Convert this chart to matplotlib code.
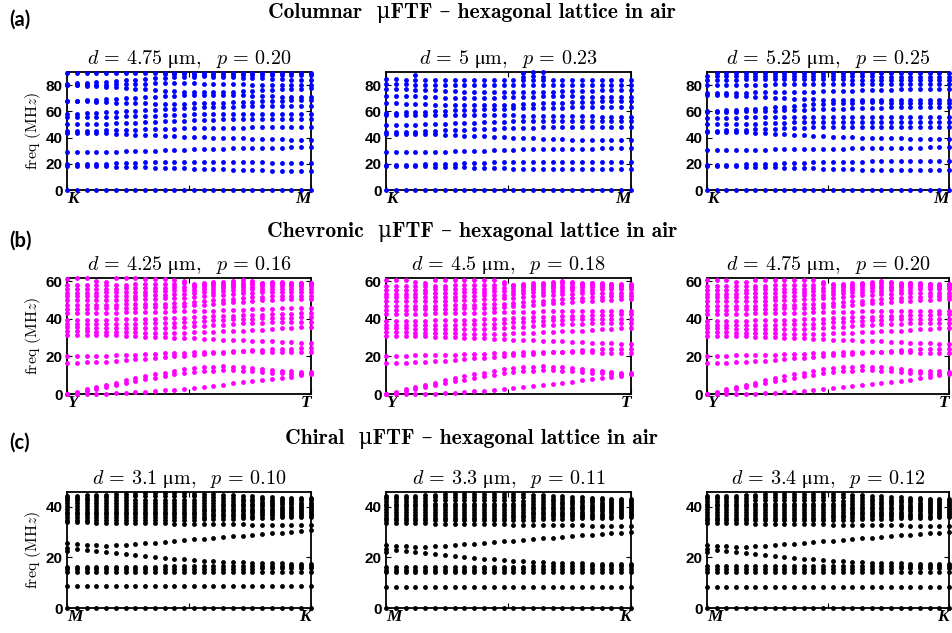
import numpy as np
import matplotlib
matplotlib.use("Agg")
import matplotlib.pyplot as plt

nan = np.nan
plt.rcParams['mathtext.fontset'] = 'cm'

# ---------------- data: band frequencies (MHz) at 26 k-points ----------------
k_points = np.arange(26)

# (a) Columnar, d = 4.75 um, p = 0.20   (K -> M)
A1 = [
 [0,0,0,0,0,0,0,0,0,0,0,0,0,0,0,0,0,0,0,0,0,0,0,0,0,0],
 [19.5,19.5,19.7,19.9,20.1,20.3,20.5,20.8,21,21.2,21.3,21.4,21.5,21.5,21.5,21.5,21.4,21.3,21.2,21.1,21,20.9,20.8,20.7,20.7,20.7],
 [18.5,18.5,18.4,18.3,18.1,17.9,17.7,17.5,17.3,17.1,16.9,16.7,16.5,16.3,16.1,15.9,15.7,15.5,15.3,15.1,14.9,14.7,14.6,14.5,14.4,14.3],
 [29,29,29,29.1,29.2,29.3,29.5,29.7,29.9,30.1,30.3,30.5,30.7,30.9,31.1,31.3,31.5,31.7,31.9,32.1,32.2,32.3,32.4,32.5,32.5,32.5],
 [43.5,43.5,43.4,43.3,43.1,42.9,42.6,42.3,42,41.7,41.4,41.1,40.8,40.5,40.2,40,39.8,39.6,39.4,39.2,39,38.8,38.6,38.5,38.4,38.4],
 [45,45,45.1,45.2,45.4,45.6,45.8,46,46.2,46.4,46.6,46.8,47,47.1,47.2,47.3,47.4,47.5,47.6,47.7,47.8,47.9,48,48,48,48],
 [50,50,50.1,50.3,50.5,50.8,51.1,51.4,51.7,52,52.3,52.6,52.9,53.2,53.4,53.6,53.8,54,54.1,54.2,54.3,54.4,54.5,54.5,54.5,54.5],
 [55.5,55.5,55.6,55.7,55.8,56,56.2,56.4,56.6,56.8,57,57.2,57.4,57.6,57.7,57.8,57.9,58,58,58,58,58,58,58,58,58],
 [58,58.2,58.5,58.9,59.3,59.7,60.1,60.5,60.9,61.3,61.7,62.1,62.4,62.7,63,63.2,63.4,63.6,63.7,63.8,63.9,64,64,64,64,64],
 [68,67.8,67.6,67.3,67,66.7,66.4,66.2,66,65.9,65.8,65.8,65.9,66,66.2,66.4,66.6,66.8,67,67.3,67.6,67.9,68.2,68.4,68.5,68.5],
 [68,68.2,68.5,68.8,69.2,69.6,70,70.4,70.8,71.2,71.6,72,72.3,72.5,72.6,72.6,72.5,72.3,72.1,71.9,71.7,71.5,71.3,71.1,71,71],
 [80,79.8,79.5,79.1,78.7,78.2,77.7,77.2,76.7,76.2,75.8,75.4,75,74.8,74.7,74.7,74.8,75,75.3,75.7,76.1,76.5,76.9,77.2,77.4,77.5],
 [80,80,80,80.2,80.4,80.6,80.8,81,81.2,81.4,81.5,81.5,81.4,81.3,81.2,81.1,81,80.8,80.6,80.4,80.2,80.1,80,80,80,80],
 [81,81.3,81.7,82.2,82.7,83.2,83.7,84.2,84.7,85.2,85.6,86,86.3,86.5,86.6,86.5,86.3,86,85.7,85.4,85.1,84.8,84.5,84.2,84,84],
 [89.5,89.5,89.5,89.5,89.5,89.5,89.5,89.5,89.5,89.5,89.5,89.5,89.5,89.5,89.5,89.5,89.5,89.5,89.5,89.5,89.5,89.5,89.5,89.5,89.5,89.5],
 [nan,nan,nan,nan,nan,nan,nan,nan,nan,nan,88.5,88.3,88.1,88,87.9,87.8,87.8,87.7,87.7,87.7,87.7,87.7,87.7,87.7,87.7,87.7],
]

# (a) Columnar, d = 5 um, p = 0.23
A2 = [
 [0,0,0,0,0,0,0,0,0,0,0,0,0,0,0,0,0,0,0,0,0,0,0,0,0,0],
 [19,19,19.2,19.4,19.6,19.8,20,20.2,20.4,20.6,20.8,21,21.2,21.4,21.5,21.6,21.7,21.7,21.7,21.7,21.7,21.6,21.6,21.6,21.6,21.6],
 [18.5,18.5,18.4,18.2,18,17.8,17.6,17.4,17.2,17,16.8,16.6,16.4,16.3,16.2,16.1,16,15.9,15.8,15.8,15.7,15.7,15.7,15.7,15.7,15.7],
 [28.7,28.7,28.8,28.9,29,29.1,29.3,29.5,29.7,29.9,30.1,30.3,30.5,30.7,30.9,31.1,31.2,31.3,31.4,31.5,31.6,31.6,31.7,31.7,31.7,31.7],
 [43,43,42.9,42.8,42.6,42.4,42.1,41.8,41.5,41.2,40.9,40.6,40.3,40,39.7,39.4,39.1,38.9,38.7,38.5,38.3,38.2,38.1,38,38,38],
 [44,44.1,44.3,44.5,44.8,45.1,45.4,45.7,46,46.3,46.6,46.9,47.1,47.3,47.5,47.6,47.7,47.8,47.9,48,48,48,48,48,48,48],
 [49.5,49.5,49.6,49.8,50,50.2,50.5,50.8,51.1,51.4,51.7,52,52.2,52.4,52.6,52.7,52.8,52.9,53,53,53,53,53,53,53,53],
 [57,57,57,57,57,57,57,57,57,57,57,57,57,56.9,56.8,56.7,56.6,56.5,56.4,56.3,56.2,56.1,56,56,56,56],
 [59,59.1,59.3,59.5,59.8,60.1,60.4,60.7,61,61.3,61.6,61.9,62.1,62.3,62.5,62.6,62.7,62.8,62.9,63,63,63,63,63,63,63],
 [66,66,65.8,65.6,65.4,65.2,65,64.9,64.8,64.8,64.8,64.9,65,65.2,65.4,65.7,66,66.3,66.6,66.9,67.2,67.5,67.7,67.9,68,68],
 [72,71.9,71.7,71.4,71.1,70.8,70.5,70.3,70.2,70.2,70.3,70.5,70.7,70.9,71.1,71.3,71.4,71.5,71.5,71.4,71.3,71.2,71.1,71,71,71],
 [77,77,76.8,76.5,76.2,75.9,75.6,75.3,75,74.8,74.6,74.5,74.4,74.4,74.5,74.6,74.8,75,75.2,75.4,75.6,75.8,75.9,76,76,76],
 [80.5,80.5,80.5,80.4,80.3,80.2,80.1,80,80,80,80,80,80,80,80,80,80,80,80,80,80,80,80,80,80,80],
 [84.3,84.3,84.2,84.2,84.1,84.1,84,84,84,84,84,84,84,84,84,84,84,84,84,84,84,84,84,84,84,84],
 [nan,nan,nan,88,nan,nan,nan,nan,nan,nan,nan,nan,nan,nan,89,90,90,nan,nan,nan,nan,nan,nan,nan,nan,nan],
 [nan,nan,nan,nan,nan,nan,nan,nan,nan,nan,nan,nan,nan,nan,86.5,87,86.5,nan,nan,nan,nan,nan,nan,nan,nan,nan],
]

# (a) Columnar, d = 5.25 um, p = 0.25
A3 = [
 [0,0,0,0,0,0,0,0,0,0,0,0,0,0,0,0,0,0,0,0,0,0,0,0,0,0],
 [19,19,19.2,19.4,19.6,19.8,20,20.2,20.4,20.6,20.8,21,21.2,21.4,21.5,21.6,21.7,21.8,21.9,22,22,22,22,22,22,22],
 [18.3,18.3,18.2,18,17.8,17.6,17.4,17.2,17,16.8,16.6,16.4,16.2,16,15.8,15.7,15.6,15.5,15.4,15.3,15.2,15.1,15,15,15,15],
 [30.5,30.5,30.5,30.5,30.6,30.7,30.8,30.9,31,31.1,31.2,31.3,31.4,31.5,31.6,31.7,31.8,31.9,32,32.1,32.2,32.3,32.4,32.5,32.5,32.5],
 [44.4,44.4,44.3,44.1,43.9,43.6,43.3,43,42.6,42.2,41.8,41.4,41,40.7,40.4,40.1,39.9,39.7,39.5,39.4,39.3,39.2,39.1,39,39,39],
 [45.2,45.3,45.5,45.7,46,46.3,46.6,46.9,47.2,47.4,47.6,47.8,47.9,48,48,48,48,48,48,48,48,48,48,48,48,48],
 [50,50,50.1,50.3,50.5,50.7,50.9,51.1,51.3,51.5,51.7,51.9,52,52.1,52.2,52.2,52.2,52.1,52.1,52,52,52,52,52,52,52],
 [55,55,55.1,55.2,55.3,55.4,55.5,55.6,55.7,55.8,55.9,56,56,56,56,56,56,56,56,56,56,56,56,56,56,56],
 [59.5,59.5,59.6,59.8,60,60.2,60.4,60.6,60.8,61,61.2,61.4,61.6,61.8,62,62.2,62.4,62.6,62.8,63,63.1,63.2,63.3,63.4,63.5,63.5],
 [60.5,60.6,60.8,61.1,61.5,62,62.5,63,63.6,64.2,64.8,65.3,65.8,66.2,66.5,66.7,66.8,66.8,66.8,66.7,66.7,66.6,66.6,66.5,66.5,66.5],
 [72.5,72.4,72.2,71.9,71.5,71.1,70.7,70.3,69.9,69.6,69.3,69.1,68.9,68.8,68.7,68.6,68.6,68.5,68.5,68.5,68.5,68.5,68.5,68.5,68.5,68.5],
 [74,74,74.1,74.2,74.3,74.4,74.5,74.6,74.7,74.8,74.9,75,75.2,75.4,75.6,75.8,76,76.2,76.4,76.6,76.7,76.8,76.9,77,77,77],
 [80,80,80,80.1,80.2,80.3,80.4,80.5,80.6,80.7,80.8,80.9,81,81,81,81,81,81,81,81,81,81,81,81,81,81],
 [84,84,84.1,84.2,84.3,84.4,84.5,84.6,84.7,84.7,84.7,84.6,84.5,84.4,84.3,84.2,84.1,84,84,84,84,84,84,84,84,84],
 [87,87,87,87,87,87,87,87,87,87,87,87,87,87,86.9,86.8,86.7,86.6,86.5,86.4,86.3,86.2,86.1,86,86,86],
 [nan,89,89,89,89,89,89,89,89,89,89,89,89,89,89,89,89,89,89,89,89,89,89,89,89,89],
]

# (b) Chevronic, d = 4.25 um, p = 0.16   (Y -> T)
B1 = [
 [0,0,0,0,0,0.3,0.5,0.8,1.1,1.5,1.9,2.3,2.8,3.3,3.8,4.4,5,5.6,6.2,6.8,7.4,8,8.6,9.3,10,10.8],
 [0,0.6,1.5,2.6,3.7,4.8,5.8,6.8,7.8,8.7,9.6,10.4,11.1,11.7,12.2,12.5,12.7,12.7,12.5,12.2,11.8,11.4,11.1,10.9,10.9,11],
 [0,1.2,2.4,3.6,4.8,6,7.2,8.3,9.4,10.4,11.4,12.3,13.1,13.8,14.3,14.6,14.7,14.6,14.3,13.9,13.4,12.9,12.4,12,11.7,11.5],
 [16.5,16.6,16.8,17,17.3,17.6,18,18.4,18.8,19.2,19.6,20,20.4,20.8,21.2,21.6,22,22.4,22.8,23.2,23.5,23.8,24,24.2,24.3,24.4],
 [20,20,20,20.2,20.4,20.6,20.8,21,21.2,21.4,21.6,21.8,22,22.2,22.4,22.5,22.6,22.7,22.7,22.7,22.6,22.6,22.5,22.5,22.4,22.4],
 [31.6,31.6,31.5,31.4,31.3,31.2,31,30.8,30.6,30.4,30.2,30,29.8,29.6,29.4,29.2,29,28.8,28.6,28.4,28.2,28,27.8,27.6,27.4,27.2],
 [33.5,33.4,33.3,33.2,33.1,33,32.9,32.8,32.7,32.6,32.6,32.6,32.7,32.8,33,33.2,33.4,33.6,33.8,34,34.3,34.6,34.9,35.2,35.5,35.7],
 [35.5,35.5,35.4,35.3,35.2,35.1,35,35,35,35.1,35.3,35.5,35.8,36.1,36.4,36.7,37,37.3,37.6,37.8,38,38.1,38.2,38.3,38.3,38.3],
 [37.5,37.5,37.5,37.5,37.5,37.5,37.5,37.5,37.6,37.7,37.8,38,38.3,38.6,38.9,39.2,39.5,39.8,40,40.2,40.4,40.5,40.6,40.7,40.8,40.8],
 [39.5,39.5,39.5,39.5,39.6,39.7,39.8,39.9,40,40.1,40.3,40.5,40.7,40.9,41.1,41.3,41.5,41.7,41.9,42.1,42.3,42.5,42.7,42.8,42.9,43],
 [43,43,43.1,43.2,43.3,43.4,43.5,43.6,43.7,43.8,43.9,44,44.1,44.2,44.3,44.4,44.6,44.8,45,45.2,45.4,45.5,45.6,45.7,45.8,45.8],
 [45.5,45.5,45.5,45.6,45.7,45.8,45.9,46,46.1,46.2,46.3,46.5,46.8,47.2,47.6,48,48.4,48.8,49.2,49.6,50,50.2,50.4,50.5,50.5,50.5],
 [47.5,47.5,47.5,47.5,47.5,47.6,47.7,47.8,47.9,48,48.2,48.4,48.7,49.1,49.5,49.9,50.3,50.7,51.1,51.5,51.8,52,52.2,52.3,52.4,52.4],
 [50,50,50,50,50.1,50.2,50.3,50.4,50.5,50.7,50.9,51.1,51.4,51.8,52.2,52.6,53,53.4,53.7,54,54.2,54.3,54.4,54.5,54.5,54.5],
 [52,52,52,52,52.1,52.2,52.3,52.4,52.6,52.8,53,53.2,53.5,53.8,54.2,54.6,55,55.3,55.6,55.8,56,56.1,56.2,56.2,56.2,56.2],
 [54,54,54,54,54.1,54.2,54.3,54.4,54.6,54.8,55,55.2,55.4,55.6,55.9,56.2,56.5,56.8,57,57.2,57.4,57.5,57.6,57.7,57.8,57.8],
 [56,56,56,56,56.1,56.2,56.3,56.4,56.5,56.6,56.7,56.8,57,57.2,57.4,57.6,57.8,58,58.2,58.4,58.5,58.6,58.7,58.8,58.9,59],
 [58,58,58,58,58.1,58.2,58.3,58.4,58.5,58.6,58.7,58.8,58.9,58.5,58.2,58.5,58.8,59,59.2,59.3,59.3,59.2,59.1,59,58.9,58.8],
 [61.3,61.8,61.7,60,59.5,61.6,61.7,61.7,61.3,61.3,61.3,61,60,58.2,59,59.5,59.5,60,60.5,60,59,59.5,59.5,59,58.2,59],
]

# (b) Chevronic, d = 4.5 um, p = 0.18
B2 = [
 [0,0,0,0,0,0.2,0.4,0.7,1,1.4,1.8,2.2,2.7,3.2,3.7,4.2,4.8,5.4,6,6.6,7.2,7.8,8.4,9,9.7,10.4],
 [0,0.6,1.5,2.5,3.6,4.7,5.7,6.7,7.7,8.6,9.5,10.3,11,11.6,12.1,12.4,12.6,12.6,12.4,12.1,11.7,11.3,11,10.8,10.7,10.7],
 [0,1.2,2.4,3.6,4.8,6,7.2,8.3,9.4,10.4,11.4,12.3,13.1,13.8,14.3,14.6,14.7,14.6,14.3,13.9,13.4,12.9,12.3,11.8,11.3,11],
 [16.3,16.4,16.6,16.8,17.1,17.4,17.8,18.2,18.6,19,19.4,19.8,20.2,20.6,21,21.4,21.8,22.2,22.6,23,23.3,23.6,23.8,24,24.1,24.2],
 [20.5,20.5,20.5,20.6,20.7,20.8,20.9,21,21.1,21.2,21.4,21.6,21.8,22,22.2,22.3,22.4,22.4,22.4,22.3,22.3,22.2,22.1,22.1,22,22],
 [31,31,30.9,30.8,30.7,30.6,30.4,30.2,30,29.8,29.6,29.4,29.2,29,28.8,28.6,28.4,28.2,28,27.8,27.6,27.4,27.2,27,26.8,26.7],
 [33,32.9,32.8,32.7,32.6,32.5,32.4,32.3,32.2,32.1,32.1,32.1,32.2,32.3,32.5,32.7,32.9,33.1,33.3,33.5,33.8,34.1,34.4,34.7,35,35.3],
 [35,35,34.9,34.8,34.7,34.6,34.5,34.5,34.5,34.6,34.8,35,35.3,35.6,35.9,36.2,36.5,36.8,37.1,37.3,37.5,37.6,37.7,37.8,37.8,37.8],
 [37,37,37,37,37,37,37,37,37.1,37.2,37.3,37.5,37.8,38.1,38.4,38.7,39,39.3,39.5,39.7,39.9,40,40,40,40,40],
 [39,39,39,39,39.1,39.2,39.3,39.4,39.5,39.6,39.8,40,40.2,40.4,40.6,40.8,41,41.2,41.4,41.6,41.8,42,42.2,42.3,42.4,42.5],
 [42.5,42.5,42.6,42.7,42.8,42.9,43,43.1,43.2,43.3,43.4,43.5,43.6,43.7,43.8,43.9,44,44.1,44.2,44.3,44.4,44.4,44.3,44.2,44.2,44.2],
 [45,45,45,45.1,45.2,45.3,45.4,45.5,45.6,45.7,45.8,46,46.3,46.7,47.1,47.5,47.9,48.3,48.7,49.1,49.5,49.8,50.1,50.3,50.4,50.5],
 [47,47,47,47,47,47.1,47.2,47.3,47.4,47.5,47.7,47.9,48.2,48.6,49,49.4,49.8,50.2,50.6,51,51.3,51.6,51.8,52,52,52],
 [49.5,49.5,49.5,49.5,49.6,49.7,49.8,49.9,50,50.2,50.4,50.6,50.9,51.3,51.7,52.1,52.5,52.9,53.2,53.5,53.7,53.8,53.9,54,54,54],
 [51.5,51.5,51.5,51.5,51.6,51.7,51.8,51.9,52.1,52.3,52.5,52.7,53,53.3,53.7,54.1,54.5,54.8,55.1,55.3,55.5,55.6,55.7,55.7,55.7,55.7],
 [53.5,53.5,53.5,53.5,53.6,53.7,53.8,53.9,54.1,54.3,54.5,54.7,54.9,55.1,55.4,55.7,56,56.3,56.5,56.7,56.9,57,57,57,57,57],
 [55.5,55.5,55.5,55.5,55.6,55.7,55.8,55.9,56,56.1,56.2,56.3,56.5,56.7,56.9,57.1,57.3,57.5,57.7,57.8,57.9,58,58,58,58,58],
 [57.5,57.5,57.5,57.5,57.6,57.7,57.8,57.9,58,58.1,58.2,58.3,58.4,58.2,58,58.2,58.5,58.7,58.9,59,59,58.9,58.8,58.7,58.6,58.5],
 [60.8,61,60.5,59.5,59,60.8,61,61,61,61,60.8,60.5,59.5,58,58.5,59,59.2,59.5,60,59.5,58.8,59,59,58.8,58,57.7],
]

# (b) Chevronic, d = 4.75 um, p = 0.20
B3 = [
 [0,0,0,0,0,0.2,0.4,0.7,1,1.3,1.7,2.1,2.6,3.1,3.6,4.1,4.7,5.3,5.9,6.5,7.1,7.7,8.4,9.2,10,10.8],
 [0,0.6,1.5,2.5,3.6,4.7,5.7,6.7,7.7,8.6,9.5,10.3,11,11.6,12.1,12.4,12.6,12.6,12.4,12.1,11.7,11.3,11,10.9,10.9,11],
 [0,1.2,2.4,3.6,4.8,6,7.2,8.3,9.4,10.4,11.4,12.3,13.1,13.8,14.3,14.6,14.7,14.6,14.3,13.9,13.4,12.9,12.5,12.2,12,11.8],
 [16.3,16.4,16.6,16.8,17.1,17.4,17.8,18.2,18.6,19,19.4,19.8,20.2,20.6,21,21.4,21.8,22.2,22.6,23,23.3,23.6,23.8,24,24.1,24.2],
 [20.5,20.5,20.5,20.6,20.7,20.8,20.9,21,21.1,21.2,21.4,21.6,21.8,22,22.2,22.3,22.4,22.4,22.4,22.3,22.3,22.2,22.1,22.1,22,22],
 [31,31,30.9,30.8,30.7,30.6,30.4,30.2,30,29.8,29.6,29.4,29.2,29,28.8,28.6,28.4,28.2,28,27.8,27.6,27.4,27.2,27,26.8,26.7],
 [33,32.9,32.8,32.7,32.6,32.5,32.4,32.3,32.2,32.1,32.1,32.1,32.2,32.3,32.5,32.7,32.9,33.1,33.3,33.5,33.8,34.1,34.4,34.7,35,35.3],
 [35,35,34.9,34.8,34.7,34.6,34.5,34.5,34.5,34.6,34.8,35,35.3,35.6,35.9,36.2,36.5,36.8,37.1,37.3,37.5,37.6,37.7,37.8,37.8,37.8],
 [37,37,37,37,37,37,37,37,37.1,37.2,37.3,37.5,37.8,38.1,38.4,38.7,39,39.3,39.5,39.7,39.9,40,40,40,40,40],
 [39,39,39,39,39.1,39.2,39.3,39.4,39.5,39.6,39.8,40,40.2,40.4,40.6,40.8,41,41.2,41.4,41.6,41.8,42,42.2,42.3,42.4,42.5],
 [42.5,42.5,42.6,42.7,42.8,42.9,43,43.1,43.2,43.3,43.4,43.5,43.6,43.7,43.8,43.9,44,44.1,44.2,44.3,44.4,44.4,44.3,44.2,44.2,44.2],
 [45,45,45,45.1,45.2,45.3,45.4,45.5,45.6,45.7,45.8,46,46.3,46.7,47.1,47.5,47.9,48.3,48.7,49.1,49.5,49.8,50.1,50.3,50.4,50.5],
 [47,47,47,47,47,47.1,47.2,47.3,47.4,47.5,47.7,47.9,48.2,48.6,49,49.4,49.8,50.2,50.6,51,51.3,51.6,51.8,52,52,52],
 [49.5,49.5,49.5,49.5,49.6,49.7,49.8,49.9,50,50.2,50.4,50.6,50.9,51.3,51.7,52.1,52.5,52.9,53.2,53.5,53.7,53.8,53.9,54,54,54],
 [51.5,51.5,51.5,51.5,51.6,51.7,51.8,51.9,52.1,52.3,52.5,52.7,53,53.3,53.7,54.1,54.5,54.8,55.1,55.3,55.5,55.6,55.7,55.7,55.7,55.7],
 [53.5,53.5,53.5,53.5,53.6,53.7,53.8,53.9,54.1,54.3,54.5,54.7,54.9,55.1,55.4,55.7,56,56.3,56.5,56.7,56.9,57,57,57,57,57],
 [55.5,55.5,55.5,55.5,55.6,55.7,55.8,55.9,56,56.1,56.2,56.3,56.5,56.7,56.9,57.1,57.3,57.5,57.7,57.8,57.9,58,58,58,58,58],
 [57.5,57.5,57.5,57.5,57.6,57.7,57.8,57.9,58,58.1,58.2,58.3,58.4,58.2,58,58.2,58.5,58.7,58.9,59,59,58.9,58.8,58.7,58.6,58.5],
 [61,61,60.5,59.5,59.5,61,61,61,61,61,61,60.5,59.5,58.5,58.5,59,59.2,59.5,60,59.5,58.8,59,59,58.8,58,58.5],
]

# (c) Chiral, d = 3.1 um, p = 0.10   (M -> K)
C1 = [
 [0,0,0,0,0,0,0,0,0,0,0,0,0,0,0,0,0,0,0,0,0,0,0,0,0,0],
 [8.5,8.5,8.5,8.5,8.5,8.5,8.5,8.5,8.5,8.5,8.5,8.5,8.5,8.5,8.5,8.5,8.5,8.5,8.5,8.5,8.5,8.5,8.5,8.5,8.5,8.5],
 [14.3,14.3,14.3,14.3,14.3,14.3,14.3,14.3,14.3,14.3,14.3,14.3,14.3,14.3,14.3,14.3,14.3,14.3,14.3,14.3,14.3,14.3,14.3,14.3,14.3,14.3],
 [15.3,15.3,15.3,15.3,15.3,15.3,15.3,15.3,15.3,15.3,15.4,15.4,15.4,15.4,15.4,15.5,15.5,15.5,15.5,15.5,15.6,15.6,15.6,15.6,15.6,15.6],
 [16.3,16.3,16.3,16.3,16.3,16.3,16.3,16.3,16.3,16.3,16.4,16.4,16.4,16.4,16.4,16.5,16.5,16.5,16.5,16.5,16.6,16.6,16.6,16.6,16.6,16.6],
 [23.6,23.2,22.8,22.4,22,21.6,21.2,20.8,20.4,20.1,19.8,19.5,19.2,18.9,18.7,18.5,18.3,18.1,18,17.9,17.8,17.7,17.6,17.5,17.5,17.5],
 [25.5,25.2,24.9,24.7,24.6,24.7,24.9,25.2,25.5,25.8,26.1,26.4,26.8,27.1,27.4,27.7,28,28.3,28.6,28.9,29.2,29.5,29.8,30.1,30.4,30.7],
 [22.4,nan,nan,nan,nan,nan,nan,nan,nan,nan,nan,nan,nan,nan,nan,nan,nan,nan,nan,nan,nan,nan,nan,nan,nan,nan],
 [33.8,33.8,33.8,33.7,33.7,33.6,33.6,33.5,33.5,33.4,33.4,33.3,33.3,33.2,33.2,33.1,33.1,33,33,32.9,32.9,32.8,32.8,32.7,32.7,32.7],
 [34.8,34.8,34.8,34.8,34.8,34.8,34.8,34.8,34.8,34.8,34.8,34.8,34.8,34.9,35,35.1,35.2,35.3,35.4,35.5,35.6,35.7,35.8,35.9,36,36],
 [35.9,35.9,35.9,35.9,35.9,35.9,35.9,35.9,35.9,35.9,35.9,35.9,35.9,36,36.1,36.2,36.3,36.4,36.5,36.5,36.6,36.6,36.7,36.7,36.8,36.8],
 [37,37,37,37,37,37,37,37,37,37,37,37,37,37.1,37.1,37.2,37.2,37.3,37.3,37.4,37.4,37.5,37.5,37.6,37.6,37.6],
 [38.1,38.1,38.1,38.1,38.1,38.1,38.1,38.1,38.1,38.1,38.1,38.1,38.1,38.1,38.2,38.2,38.2,38.3,38.3,38.3,38.3,38.4,38.4,38.4,38.4,38.4],
 [39.2,39.2,39.2,39.2,39.2,39.2,39.2,39.2,39.2,39.2,39.2,39.2,39.2,39.2,39.2,39.2,39.2,39.2,39.2,39.2,39.2,39.2,39.2,39.2,39.2,39.2],
 [40.3,40.3,40.3,40.3,40.3,40.3,40.3,40.3,40.3,40.3,40.3,40.3,40.3,40.3,40.3,40.2,40.2,40.2,40.1,40.1,40.1,40.1,40,40,40,40],
 [41.4,41.4,41.4,41.4,41.4,41.4,41.4,41.4,41.4,41.4,41.4,41.4,41.4,41.4,41.3,41.3,41.2,41.2,41.1,41.1,41,41,40.9,40.9,40.8,40.8],
 [42.5,42.5,42.5,42.6,42.6,42.7,42.7,42.8,42.8,42.8,42.8,42.8,42.8,42.7,42.6,42.5,42.4,42.3,42.2,42.1,42,41.9,41.8,41.7,41.6,41.6],
 [43.5,43.5,43.6,43.7,43.8,43.9,44,44.1,44.2,44.2,44.2,44.2,44.2,44.1,44,43.8,43.6,43.4,43.2,43,42.9,42.8,42.7,42.6,42.5,42.5],
 [44.4,44.4,44.5,44.6,44.8,45,45.1,45.2,45.3,45.3,45.3,45.3,45.3,45.2,45.1,44.9,44.7,44.5,44.3,44.1,43.9,43.7,43.5,43.4,43.3,43.3],
]

# (c) Chiral, d = 3.3 um, p = 0.11
C2 = [
 [0,0,0,0,0,0,0,0,0,0,0,0,0,0,0,0,0,0,0,0,0,0,0,0,0,0],
 [8.2,8.2,8.2,8.2,8.2,8.2,8.2,8.2,8.2,8.2,8.2,8.2,8.2,8.2,8.2,8.2,8.2,8.2,8.2,8.2,8.2,8.2,8.2,8.2,8.2,8.2],
 [14.2,14.2,14.2,14.2,14.2,14.2,14.2,14.2,14.2,14.2,14.2,14.2,14.2,14.2,14.2,14.2,14.2,14.2,14.2,14.2,14.2,14.2,14.2,14.2,14.2,14.2],
 [15.2,15.2,15.2,15.2,15.2,15.2,15.2,15.2,15.2,15.2,15.3,15.3,15.3,15.3,15.3,15.4,15.4,15.4,15.4,15.4,15.5,15.5,15.5,15.5,15.5,15.5],
 [16.2,16.2,16.2,16.2,16.2,16.2,16.2,16.2,16.2,16.2,16.3,16.3,16.3,16.3,16.3,16.4,16.4,16.4,16.4,16.4,16.5,16.5,16.5,16.5,16.5,16.5],
 [23.3,22.9,22.5,22.1,21.7,21.3,20.9,20.5,20.1,19.8,19.5,19.2,18.9,18.7,18.5,18.3,18.1,17.9,17.8,17.7,17.6,17.5,17.4,17.4,17.4,17.4],
 [24.8,24.5,24.3,24.2,24.2,24.3,24.5,24.8,25.1,25.4,25.7,26,26.3,26.6,26.9,27.2,27.5,27.8,28.1,28.4,28.7,29,29.3,29.6,29.8,30],
 [22,nan,nan,nan,nan,nan,nan,nan,nan,nan,nan,nan,nan,nan,nan,nan,nan,nan,nan,nan,nan,nan,nan,nan,nan,nan],
 [33.5,33.5,33.5,33.4,33.4,33.3,33.3,33.2,33.2,33.1,33.1,33,33,32.9,32.9,32.8,32.8,32.7,32.7,32.6,32.6,32.5,32.5,32.4,32.4,32.4],
 [34.6,34.6,34.6,34.6,34.6,34.6,34.6,34.6,34.6,34.6,34.6,34.6,34.6,34.7,34.8,34.9,35,35.1,35.2,35.3,35.4,35.5,35.6,35.7,35.8,35.8],
 [35.7,35.7,35.7,35.7,35.7,35.7,35.7,35.7,35.7,35.7,35.7,35.7,35.7,35.8,35.9,36,36.1,36.2,36.3,36.3,36.4,36.4,36.5,36.5,36.6,36.6],
 [36.8,36.8,36.8,36.8,36.8,36.8,36.8,36.8,36.8,36.8,36.8,36.8,36.8,36.9,36.9,37,37,37.1,37.1,37.2,37.2,37.3,37.3,37.4,37.4,37.4],
 [37.9,37.9,37.9,37.9,37.9,37.9,37.9,37.9,37.9,37.9,37.9,37.9,37.9,37.9,38,38,38,38.1,38.1,38.1,38.1,38.2,38.2,38.2,38.2,38.2],
 [39,39,39,39,39,39,39,39,39,39,39,39,39,39,39,39,39,39,39,39,39,39,39,39,39,39],
 [40.1,40.1,40.1,40.1,40.1,40.1,40.1,40.1,40.1,40.1,40.1,40.1,40.1,40.1,40.1,40,40,40,39.9,39.9,39.9,39.9,39.8,39.8,39.8,39.8],
 [41.2,41.2,41.2,41.2,41.2,41.2,41.2,41.2,41.2,41.2,41.2,41.2,41.2,41.2,41.1,41.1,41,41,40.9,40.9,40.8,40.8,40.7,40.7,40.6,40.6],
 [42.3,42.3,42.3,42.4,42.4,42.5,42.5,42.6,42.6,42.6,42.6,42.6,42.6,42.5,42.4,42.3,42.2,42.1,42,41.9,41.8,41.7,41.6,41.5,41.4,41.4],
 [43.3,43.3,43.4,43.5,43.6,43.7,43.8,43.9,44,44,44,44,44,43.9,43.8,43.6,43.4,43.2,43,42.8,42.7,42.6,42.5,42.4,42.3,42.3],
 [44.2,44.2,44.3,44.4,44.6,44.8,44.9,45,45.1,45.1,45.1,45.1,45.1,45,44.9,44.7,44.5,44.3,44.1,43.9,43.7,43.5,43.3,43.2,43.1,43.1],
]

# (c) Chiral, d = 3.4 um, p = 0.12
C3 = [
 [0,0,0,0,0,0,0,0,0,0,0,0,0,0,0,0,0,0,0,0,0,0,0,0,0,0],
 [8.2,8.2,8.2,8.2,8.2,8.2,8.2,8.2,8.2,8.2,8.2,8.2,8.2,8.2,8.2,8.2,8.2,8.2,8.2,8.2,8.2,8.2,8.2,8.2,8.2,8.2],
 [14.2,14.2,14.2,14.2,14.2,14.2,14.2,14.2,14.2,14.2,14.2,14.2,14.2,14.2,14.2,14.2,14.2,14.2,14.2,14.2,14.2,14.2,14.2,14.2,14.2,14.2],
 [15.3,15.3,15.3,15.3,15.3,15.3,15.3,15.3,15.3,15.3,15.4,15.4,15.4,15.4,15.4,15.5,15.5,15.5,15.5,15.5,15.6,15.6,15.6,15.6,15.6,15.6],
 [16.4,16.4,16.4,16.4,16.4,16.4,16.4,16.4,16.4,16.4,16.5,16.5,16.5,16.5,16.5,16.6,16.6,16.6,16.6,16.6,16.7,16.7,16.7,16.7,16.7,16.7],
 [23.3,22.9,22.5,22.1,21.7,21.3,20.9,20.5,20.1,19.8,19.5,19.2,18.9,18.7,18.5,18.3,18.1,17.9,17.8,17.7,17.6,17.5,17.4,17.4,17.4,17.4],
 [24.8,24.5,24.3,24.2,24.2,24.3,24.5,24.8,25.1,25.4,25.7,26,26.3,26.6,26.9,27.2,27.5,27.8,28.1,28.4,28.7,29,29.3,29.6,29.8,30],
 [22,nan,nan,nan,nan,nan,nan,nan,nan,nan,nan,nan,nan,nan,nan,nan,nan,nan,nan,nan,nan,nan,nan,nan,nan,nan],
 [33.5,33.5,33.5,33.4,33.4,33.3,33.3,33.2,33.2,33.1,33.1,33,33,32.9,32.9,32.8,32.8,32.7,32.7,32.6,32.6,32.5,32.5,32.4,32.4,32.4],
 [34.6,34.6,34.6,34.6,34.6,34.6,34.6,34.6,34.6,34.6,34.6,34.6,34.6,34.7,34.8,34.9,35,35.1,35.2,35.3,35.4,35.5,35.6,35.7,35.8,35.8],
 [35.7,35.7,35.7,35.7,35.7,35.7,35.7,35.7,35.7,35.7,35.7,35.7,35.7,35.8,35.9,36,36.1,36.2,36.3,36.3,36.4,36.4,36.5,36.5,36.6,36.6],
 [36.8,36.8,36.8,36.8,36.8,36.8,36.8,36.8,36.8,36.8,36.8,36.8,36.8,36.9,36.9,37,37,37.1,37.1,37.2,37.2,37.3,37.3,37.4,37.4,37.4],
 [37.9,37.9,37.9,37.9,37.9,37.9,37.9,37.9,37.9,37.9,37.9,37.9,37.9,37.9,38,38,38,38.1,38.1,38.1,38.1,38.2,38.2,38.2,38.2,38.2],
 [39,39,39,39,39,39,39,39,39,39,39,39,39,39,39,39,39,39,39,39,39,39,39,39,39,39],
 [40.1,40.1,40.1,40.1,40.1,40.1,40.1,40.1,40.1,40.1,40.1,40.1,40.1,40.1,40.1,40,40,40,39.9,39.9,39.9,39.9,39.8,39.8,39.8,39.8],
 [41.2,41.2,41.2,41.2,41.2,41.2,41.2,41.2,41.2,41.2,41.2,41.2,41.2,41.2,41.1,41.1,41,41,40.9,40.9,40.8,40.8,40.7,40.7,40.6,40.6],
 [42.3,42.3,42.3,42.4,42.4,42.5,42.5,42.6,42.6,42.6,42.6,42.6,42.6,42.5,42.4,42.3,42.2,42.1,42,41.9,41.8,41.7,41.6,41.5,41.4,41.4],
 [43.3,43.3,43.4,43.5,43.6,43.7,43.8,43.9,44,44,44,44,44,43.9,43.8,43.6,43.4,43.2,43,42.8,42.7,42.6,42.5,42.4,42.3,42.3],
 [44.2,44.2,44.3,44.4,44.6,44.8,44.9,45,45.1,45.1,45.1,45.1,45.1,45,44.9,44.7,44.5,44.3,44.1,43.9,43.7,43.5,43.3,43.2,43.1,43.1],
]

# ---------------- labels ----------------
row_headings = ["Columnar  \u03bcFTF \u2013 hexagonal lattice in air",
                "Chevronic  \u03bcFTF \u2013 hexagonal lattice in air",
                "Chiral  \u03bcFTF \u2013 hexagonal lattice in air"]
row_tags = ["(a)", "(b)", "(c)"]
d_values = [["4.75", "5", "5.25"], ["4.25", "4.5", "4.75"], ["3.1", "3.3", "3.4"]]
p_values = [["0.20", "0.23", "0.25"], ["0.16", "0.18", "0.20"], ["0.10", "0.11", "0.12"]]
k_labels = [("K", "M"), ("Y", "T"), ("M", "K")]
row_colors = ["#0000ff", "#ff00ff", "#000000"]
row_ymax = [90, 61.8, 45.8]
row_yticks = [[0, 20, 40, 60, 80], [0, 20, 40, 60], [0, 20, 40]]
row_data = [[A1, A2, A3], [B1, B2, B3], [C1, C2, C3]]

# ---------------- layout (pixels) ----------------
W, H = 953, 633
col_px = [(67, 311), (386, 631), (707, 949)]
row_px = [(72, 190), (278, 394), (492, 608)]
heading_y = [13, 232, 439]
tag_y = [20, 241, 443]

fig = plt.figure(figsize=(W / 100, H / 100), dpi=100)

TITLE_FMT = '$d\\,=\\,%s\\ \\mathrm{\u03bcm},\\ \\ p\\,=\\,%s$'

for r in range(3):
    fig.text(472 / W, 1 - heading_y[r] / H, row_headings[r], ha='center', va='center',
             fontsize=15.5, family=['cmb10', 'DejaVu Serif'])
    fig.text(9 / W, 1 - tag_y[r] / H, row_tags[r], ha='left', va='center',
             fontsize=14.5, fontweight='bold', family=['Lato', 'DejaVu Sans'])
    for c in range(3):
        x0, x1 = col_px[c]
        y0, y1 = row_px[r]
        ax = fig.add_axes([x0 / W, 1 - y1 / H, (x1 - x0) / W, (y1 - y0) / H])
        for band in row_data[r][c]:
            ax.plot(k_points, band, 'o', ms=3.5, mfc=row_colors[r], mec='none',
                    clip_on=False, zorder=3)
        ax.set_xlim(k_points[0], k_points[-1])
        ax.set_ylim(0, row_ymax[r])
        ax.set_xticks([k_points[0], (k_points[0] + k_points[-1]) / 2, k_points[-1]])
        ax.set_xticklabels([k_labels[r][0], '', k_labels[r][1]])
        ax.set_yticks(row_yticks[r])
        ax.tick_params(direction='in', top=True, right=True, length=3.5, width=0.8)
        ax.tick_params(axis='x', pad=1)
        ax.tick_params(axis='y', pad=3)
        for lab in ax.get_yticklabels():
            lab.set_fontfamily('Liberation Sans')
            lab.set_fontweight('bold')
            lab.set_fontsize(11)
        xl = ax.get_xticklabels()
        for lab in xl:
            lab.set_fontfamily('Liberation Serif')
            lab.set_fontstyle('italic')
            lab.set_fontweight('bold')
            lab.set_fontsize(12.5)
        xl[0].set_ha('left')
        xl[-1].set_ha('right')
        for s in ax.spines.values():
            s.set_linewidth(1.3)
        ax.set_title(TITLE_FMT % (d_values[r][c], p_values[r][c]), fontsize=14.5, pad=6)
        if c == 0:
            ax.set_ylabel(r'$\mathrm{freq\ (MH}z\mathrm{)}$', fontsize=11.5, labelpad=2)

fig.savefig('out.png', dpi=100)
